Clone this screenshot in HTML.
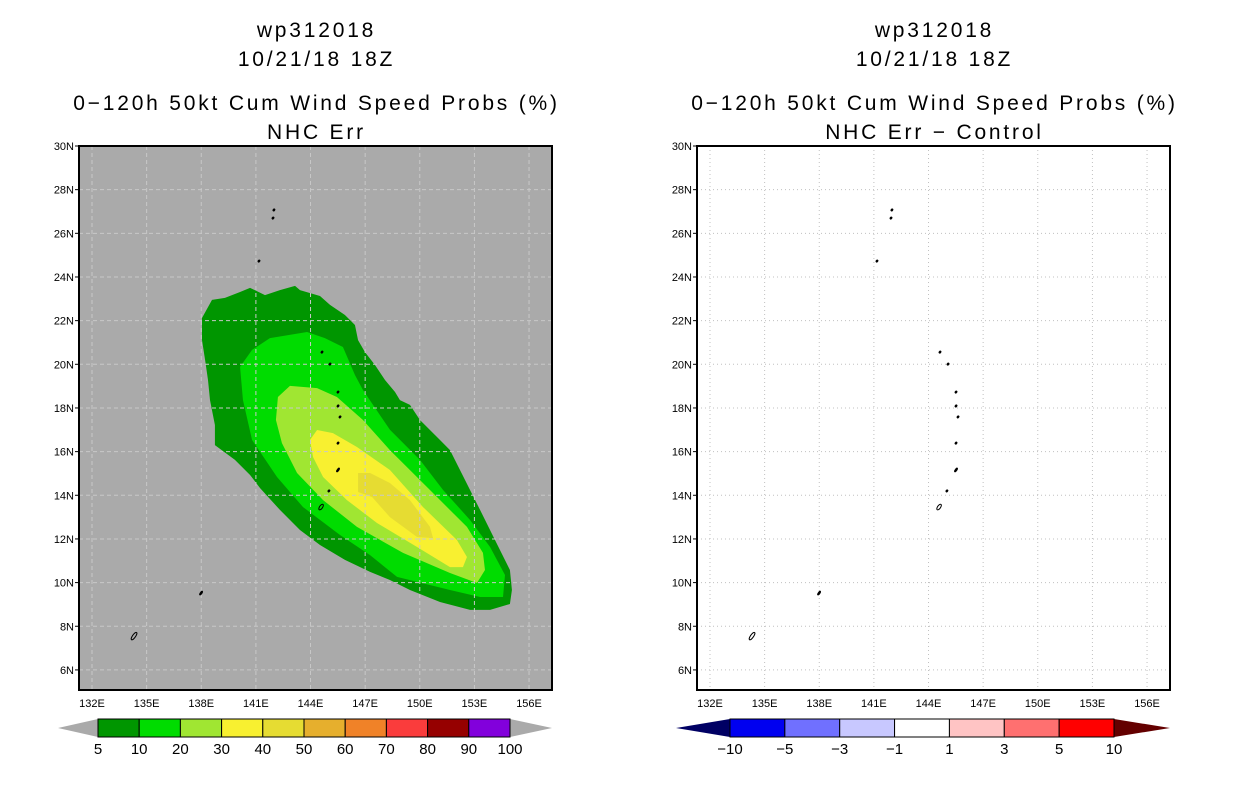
<!DOCTYPE html>
<html><head><meta charset="utf-8"><style>
body{margin:0;background:#fff;width:1236px;height:800px;overflow:hidden}
svg{display:block}
text{font-family:"Liberation Sans","DejaVu Sans",sans-serif}
.tt{letter-spacing:2.8px}
</style></head><body>
<svg id="svg" width="1236" height="800"></svg>
<script>
// ---- data ----
const lonTicks=[132,135,138,141,144,147,150,153,156];
const latTicks=[6,8,10,12,14,16,18,20,22,24,26,28,30];
const probLevels=[5,10,20,30,40,50,60,70,80,90,100];
const probColors=['#009600','#00dc00','#a0e632','#f8f030','#e6dc32','#e6af2d','#f08228','#fa3c3c','#960000','#8200dc'];
const diffLevels=[-10,-5,-3,-1,1,3,5,10];
const diffColors=['#0000f0','#7070ff','#c8c8ff','#ffffff','#ffc4c4','#ff7070','#ff0000'];
// contour polygons [lon,lat]
const c5=[[138.04,22.12],[138.59,22.95],[139.30,23.04],[140.13,23.31],[140.68,23.50],[141.50,23.17],[142.32,23.40],[143.15,23.59],[143.42,23.40],[144.52,23.13],[145.07,22.72],[145.89,22.26],[146.44,21.80],[146.61,21.11],[146.99,20.56],[147.54,19.97],[148.09,19.28],[148.64,18.73],[148.91,18.36],[149.46,18.14],[150.01,17.45],[151.11,16.53],[151.66,16.07],[152.76,14.24],[153.31,13.33],[154.13,11.95],[154.95,10.58],[155.06,9.66],[154.95,9.02],[153.86,8.75],[152.76,8.75],[151.11,9.11],[149.46,9.66],[148.36,10.12],[147.27,10.49],[145.89,11.04],[144.52,11.72],[143.42,12.41],[142.32,13.33],[141.23,14.33],[140.68,14.93],[139.85,15.62],[138.75,16.30],[138.75,17.22],[138.48,18.36],[138.37,19.28],[138.21,20.20],[138.04,21.11]];
const c10=[[143.81,21.48],[141.77,21.20],[140.79,20.66],[140.13,19.88],[140.29,18.36],[140.79,16.53],[142.16,14.84],[143.59,13.46],[145.62,12.18],[147.27,11.26],[148.75,10.26],[151.66,9.66],[153.31,9.34],[154.57,9.34],[154.68,10.35],[153.86,11.63],[152.76,12.87],[151.28,14.24],[150.01,15.62],[148.36,17.0],[146.88,18.82],[146.44,19.51],[145.78,20.79],[144.79,21.20]];
const c20=[[142.87,19.01],[142.21,18.50],[142.10,17.45],[142.43,16.39],[143.26,15.02],[144.69,13.78],[146.55,12.55],[149.08,11.36],[151.66,10.44],[153.14,9.98],[153.58,10.58],[153.47,11.36],[152.59,12.55],[150.56,14.24],[148.36,16.07],[146.88,17.45],[145.45,18.50],[144.36,18.91]];
const c30=[[144.36,16.99],[143.97,16.53],[144.14,15.75],[144.69,14.84],[146.0,13.78],[147.65,12.73],[149.85,11.63],[151.66,10.71],[152.37,10.71],[152.59,11.17],[152.04,11.95],[150.18,13.46],[148.36,15.16],[146.55,16.21],[145.23,16.85]];
const c40=[[146.61,15.02],[146.61,14.15],[147.38,13.92],[148.36,13.0],[149.85,12.09],[150.73,12.04],[150.56,12.55],[149.46,13.78],[148.36,14.56],[147.27,15.02]];
// islands [lon,lat,size]
const islands=[[141.99,27.07,1],[141.94,26.70,1],[141.17,24.73,1],[144.63,20.56,1],[145.07,20.01,1],[145.51,18.73,1],[145.51,18.09,1],[145.62,17.59,1],[145.51,16.39,1],[145.51,15.16,2],[145.01,14.20,1],[144.58,13.46,3],[137.99,9.52,2],[134.31,7.55,4]];
// ---- drawing ----
const NS='http://www.w3.org/2000/svg', svg=document.getElementById('svg');
function E(t,a,p){const e=document.createElementNS(NS,t);for(const k in a)e.setAttribute(k,a[k]);(p||svg).appendChild(e);return e;}
const X0=[79,697],Y0=146,W=473,H=544;
function xs(lon,p){return X0[p]+13+(lon-132)*18.21;}
function ys(lat){return 146+(30-lat)*21.83;}
function T(x,y,s,sz,anc,p,name,cls){const t=E('text',{x:x,y:y,'font-size':sz,'text-anchor':anc||'middle'},p);if(cls)t.setAttribute('class',cls);t.textContent=s;return t;}
function panel(p,titles,bg){
  const g=E('g',{});
  
  
  const cx=X0[p]+W/2+1;
  T(cx,37,'wp312018',21,'middle',g,'storm-id-title','tt');
  T(cx,66,'10/21/18 18Z',21,'middle',g,'date-title','tt');
  T(cx,110,'0\u2212120h 50kt Cum Wind Speed Probs (%)',21,'middle',g,'main-title','tt');
  T(cx,139,titles,21,'middle',g,'sub-title','tt');
  const r=E('rect',{x:X0[p],y:Y0,width:W,height:H,fill:bg},g);
  
  if(p===0){
    [c5,c10,c20,c30,c40].forEach((c,i)=>{
      const pl=E('polygon',{points:c.map(q=>xs(q[0],p)+','+ys(q[1])).join(' '),fill:probColors[i]},g);
      
      
    });
  }
  const gc=p?'#c0c0c0':'#c8c8c8';
  lonTicks.forEach(l=>{const x=xs(l,p);const ln=E('line',{x1:x,x2:x,y1:Y0,y2:Y0+H,stroke:gc,'stroke-dasharray':p?'1,3':'4,3'},g);
    T(x,707,l+'E',11,'middle',g,'lon-label-'+l);});
  latTicks.forEach(l=>{const y=ys(l);if(l<30){const ln=E('line',{x1:X0[p],x2:X0[p]+W,y1:y,y2:y,stroke:gc,'stroke-dasharray':p?'1,3':'4,3'},g);}
    E('line',{x1:X0[p]-4,x2:X0[p],y1:y,y2:y,stroke:'#000'},g);
    T(X0[p]-5,y+4,l+'N',11,'end',g,'lat-label-'+l);});
  islands.forEach(s=>{const x=xs(s[0],p),y=ys(s[1]);const il=E('ellipse',{cx:x,cy:y,rx:s[2]>2?1.5:0.8,ry:s[2]*1.1,fill:s[2]>2?'none':'#000',stroke:'#000','stroke-width':1,transform:'rotate(35 '+x+' '+y+')'},g);});
  const fr=E('rect',{x:X0[p],y:Y0,width:W,height:H,fill:'none',stroke:'#000','stroke-width':2},g);
  
}
panel(0,'NHC Err','#aaaaaa');
panel(1,'NHC Err \u2212 Control','#ffffff');
function cbar(x0,x1,tipL,tipR,cols,levels,lc,rc,name){
  const g=E('g',{});
  const y0=719,y1=737,n=cols.length,w=(x1-x0)/n;
  E('polygon',{points:`${tipL},728 ${x0},${y0} ${x0},${y1}`,fill:lc},g);
  E('polygon',{points:`${tipR},728 ${x1},${y0} ${x1},${y1}`,fill:rc},g);
  cols.forEach((c,i)=>{const b=E('rect',{x:x0+i*w,y:y0,width:w,height:y1-y0,fill:c,stroke:'#000','stroke-width':1},g);});
  levels.forEach((v,i)=>T(x0+i*w,754,String(v).replace('-','\u2212'),15,'middle',g,'colorbar-label'));
}
cbar(98,510,58,552,probColors,probLevels,'#aaaaaa','#aaaaaa','prob-colorbar');
cbar(730,1114,676,1170,diffColors,diffLevels,'#000064','#640000','diff-colorbar');
</script>
</body></html>
